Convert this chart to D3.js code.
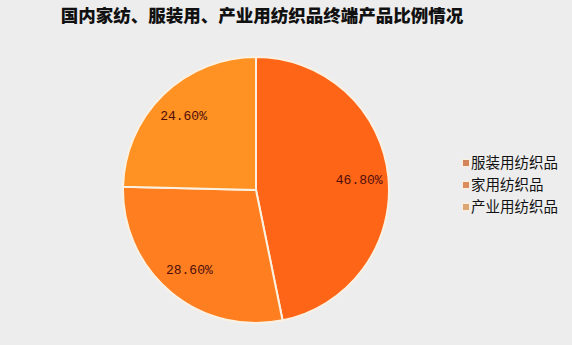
<!DOCTYPE html>
<html>
<head>
<meta charset="utf-8">
<script src="https://cdn.jsdelivr.net/npm/d3@7"></script>
<style>
  html, body { margin: 0; padding: 0; background: #ededed; }
  svg { display: block; }
</style>
</head>
<body>
<svg id="chart" width="572" height="345"></svg>
<script>
// Share of end-use products (%)
const categories = ["服装用纺织品", "家用纺织品", "产业用纺织品"];
const values = [46.8, 28.6, 24.6];
const labels = ["46.80%", "28.60%", "24.60%"];
const sliceColors = ["#ff6516", "#ff7f20", "#ff9222"];
const legendColors = ["#d4845c", "#da8c5e", "#dba574"];
const title = "国内家纺、服装用、产业用纺织品终端产品比例情况";

const width = 572, height = 345;
const cx = 256, cy = 190, radius = 133;

const svg = d3.select("#chart");

svg.append("rect")
  .attr("width", width).attr("height", height)
  .attr("fill", "#ededed");

svg.append("text")
  .attr("x", 262).attr("y", 22)
  .attr("text-anchor", "middle")
  .attr("font-family", "'Noto Sans CJK SC', sans-serif")
  .attr("font-weight", 900)
  .attr("font-size", 17.5)
  .attr("fill", "#111")
  .text(title);

const pie = d3.pie().sort(null).value(d => d)
  .startAngle(0).endAngle(2 * Math.PI);
const arcs = pie(values);

const arc = d3.arc().innerRadius(0).outerRadius(radius);
const labelArc = d3.arc().innerRadius(radius * 0.78).outerRadius(radius * 0.78);

const g = svg.append("g").attr("transform", `translate(${cx},${cy})`);

g.selectAll("path.slice")
  .data(arcs)
  .join("path")
  .attr("class", "slice")
  .attr("d", arc)
  .attr("fill", (d, i) => sliceColors[i])
  .attr("stroke", "#fbf1e2")
  .attr("stroke-width", 2)
  .attr("stroke-linejoin", "round");

g.selectAll("text.val")
  .data(arcs)
  .join("text")
  .attr("class", "val")
  .attr("transform", d => `translate(${labelArc.centroid(d)})`)
  .attr("text-anchor", "middle")
  .attr("dy", "0.35em")
  .attr("font-family", "'Liberation Mono', 'DejaVu Sans Mono', monospace")
  .attr("font-size", 13)
  .attr("fill", "#4e0d0d")
  .text((d, i) => labels[i]);

// Legend
const legend = svg.append("g").attr("transform", "translate(463,163)");
const rowH = 22;
const rows = legend.selectAll("g.row")
  .data(categories)
  .join("g")
  .attr("class", "row")
  .attr("transform", (d, i) => `translate(0,${i * rowH})`);

rows.append("rect")
  .attr("x", -1).attr("y", -4)
  .attr("width", 8).attr("height", 8)
  .attr("fill", "#fbeedd");
rows.append("rect")
  .attr("x", 0).attr("y", -3)
  .attr("width", 6).attr("height", 6)
  .attr("fill", (d, i) => legendColors[i]);
rows.append("text")
  .attr("x", 8).attr("y", 0)
  .attr("dy", "0.36em")
  .attr("font-family", "'Noto Sans CJK SC', sans-serif")
  .attr("font-size", 14.5)
  .attr("fill", "#111")
  .text(d => d);
</script>
</body>
</html>
